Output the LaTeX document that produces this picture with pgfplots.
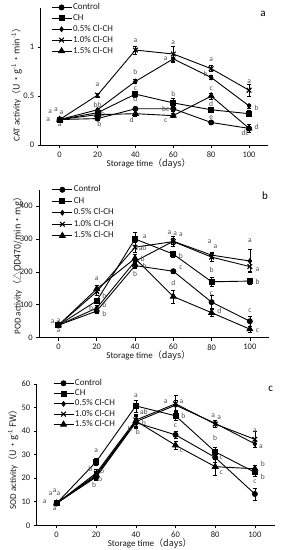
\documentclass[border=0pt]{standalone}
\usepackage{fontspec}
\setmainfont{Carlito}
\newfontfamily\cjk{Noto Sans CJK SC}
\usepackage{pgfplots}
\pgfplotsset{compat=1.18}
\newcommand{\lab}[3]{\node[font=\fontsize{7.5}{8}\selectfont, text=black!70, inner sep=0pt] at (axis cs:#1,#2) {#3};}
\pgfplotsset{
 panel/.style={
  scale only axis, axis lines=left, axis line style={-, black, line width=0.8pt},
  xmin=-10, xmax=110, xtick={0,20,...,100}, ymin=0,
  tick align=outside, major tick length=3pt, tick style={black, line width=0.6pt},
  ticklabel style={font=\fontsize{8.5}{9}\selectfont, text=black!90},
  /pgf/number format/assume math mode=true,
  xlabel={Storage time\cjk{（}days\cjk{）}},
  xlabel style={at={(axis description cs:0.475,0)}, anchor=center, yshift=-18.5pt, font=\fontsize{9}{10}\selectfont, text=black!90},
  ylabel style={font=\fontsize{9}{10}\selectfont, anchor=center, text=black!90},
  legend cell align=left,
  legend style={draw=none, fill=none, font=\fontsize{9}{9}\selectfont, anchor=north west, inner sep=0pt,
     nodes={inner sep=1pt, text height=6pt, text depth=2pt, text=black!90}},
  legend image code/.code={\draw[mark repeat=2,mark phase=2] plot coordinates {(0pt,0pt)(10pt,0pt)(20pt,0pt)};},
  every axis plot/.append style={black, line width=0.9pt, error bars/y dir=both, error bars/y explicit, error bars/error bar style={line width=0.5pt, solid}, error bars/error mark options={rotate=90, mark size=2pt, line width=0.5pt}},
 },
 s1/.style={mark=*, mark size=2.5pt},
 s2/.style={mark=square*, mark size=2.5pt},
 s3/.style={mark=diamond*, mark size=2.3pt},
 s4/.style={mark=x, mark size=3.3pt, mark options={line width=1.1pt}},
 s5/.style={mark=triangle*, mark size=3.3pt},
}
\begin{document}
\begin{tikzpicture}
\useasboundingbox (0,0) rectangle (282pt,550pt);
% ---------------- a: CAT
\begin{axis}[panel, at={(40.7pt,405pt)}, anchor=south west, width=227.3pt, height=137pt,
  ymax=1.4, ytick={0,0.5,1},
  ylabel={CAT activity\cjk{（}U·g\textsuperscript{-1}·min\textsuperscript{-1}\cjk{）}},
  ylabel style={at={(axis description cs:0,0.456)}, yshift=24pt},
  legend style={at={(axis description cs:0.045,1.042)}, row sep=0.9pt}]
\addplot[s1] coordinates {(0,0.26)+-(0,0.01) (20,0.27)+-(0,0.02) (40,0.37)+-(0,0.02) (60,0.37)+-(0,0.03) (80,0.23)+-(0,0.02) (100,0.17)+-(0,0.02)};
\addlegendentry{Control}
\addplot[s2] coordinates {(0,0.26)+-(0,0.01) (20,0.33)+-(0,0.02) (40,0.52)+-(0,0.03) (60,0.43)+-(0,0.05) (80,0.36)+-(0,0.02) (100,0.32)+-(0,0.03)};
\addlegendentry{CH}
\addplot[s3] coordinates {(0,0.26)+-(0,0.01) (20,0.36)+-(0,0.02) (40,0.65)+-(0,0.02) (60,0.88)+-(0,0.02) (80,0.69)+-(0,0.02) (100,0.40)+-(0,0.02)};
\addlegendentry{0.5\% Cl-CH}
\addplot[s4] coordinates {(0,0.26)+-(0,0.01) (20,0.51)+-(0,0.02) (40,0.97)+-(0,0.04) (60,0.93)+-(0,0.08) (80,0.78)+-(0,0.03) (100,0.56)+-(0,0.06)};
\addlegendentry{1.0\% Cl-CH}
\addplot[s5] coordinates {(0,0.26)+-(0,0.01) (20,0.31)+-(0,0.02) (40,0.32)+-(0,0.03) (60,0.30)+-(0,0.02) (80,0.50)+-(0,0.03) (100,0.17)+-(0,0.04)};
\addlegendentry{1.5\% Cl-CH}
\lab{-6}{0.26}{a}\lab{-5}{0.34}{a}\lab{-2}{0.36}{a}\lab{1}{0.33}{a}\lab{0}{0.21}{a}
\lab{20}{0.62}{a}\lab{20}{0.41}{bb}\lab{23}{0.32}{b}\lab{21}{0.22}{b}
\lab{40}{1.07}{a}\lab{40}{0.75}{b}\lab{40}{0.58}{c}\lab{40}{0.47}{d}\lab{38}{0.26}{d}
\lab{60}{1.05}{a}\lab{56}{0.88}{a}\lab{60}{0.52}{b}\lab{56}{0.37}{bc}\lab{56}{0.25}{c}
\lab{80}{0.87}{a}\lab{77}{0.73}{b}\lab{80}{0.58}{c}\lab{80}{0.42}{d}\lab{80}{0.28}{e}
\lab{100}{0.65}{a}\lab{104}{0.38}{b}\lab{104}{0.18}{d}\lab{98}{0.12}{dc}
\end{axis}
\node[font=\fontsize{11}{12}\selectfont] at (263pt,536pt) {a};
% ---------------- b: POD
\begin{axis}[panel, at={(39.3pt,212.3pt)}, anchor=south west, width=229.7pt, height=148.1pt,
  ymax=450, ytick={0,100,...,400},
  ylabel={POD activity\cjk{（}\cjk{△}OD470/min·mg\cjk{）}},
  ylabel style={at={(axis description cs:0,0.5)}, yshift=21.5pt},
  legend style={at={(axis description cs:0.054,1.034)}, row sep=1.5pt}]
\addplot[s1] coordinates {(0,38)+-(0,5) (20,81)+-(0,6) (40,219)+-(0,8) (60,202)+-(0,7) (80,108)+-(0,20) (100,50)+-(0,15)};
\addlegendentry{Control}
\addplot[s2] coordinates {(0,38)+-(0,5) (20,112)+-(0,8) (40,300)+-(0,20) (60,254)+-(0,10) (80,170)+-(0,13) (100,172)+-(0,10)};
\addlegendentry{CH}
\addplot[s3] coordinates {(0,38)+-(0,5) (20,90)+-(0,8) (40,232)+-(0,10) (60,293)+-(0,10) (80,251)+-(0,10) (100,233)+-(0,35)};
\addlegendentry{0.5\% Cl-CH}
\addplot[s4] coordinates {(0,38)+-(0,5) (20,140)+-(0,10) (40,275)+-(0,15) (60,292)+-(0,15) (80,245)+-(0,12) (100,216)+-(0,15)};
\addlegendentry{1.0\% Cl-CH}
\addplot[s5] coordinates {(0,38)+-(0,5) (20,148)+-(0,10) (40,241)+-(0,12) (60,125)+-(0,20) (80,76)+-(0,10) (100,26)+-(0,8)};
\addlegendentry{1.5\% Cl-CH}
\lab{-3}{48}{a}\lab{0}{52}{a}\lab{3}{50}{a}\lab{0}{22}{a}
\lab{20}{180}{a}\lab{24}{128}{b}\lab{24}{100}{b}\lab{17}{90}{b}\lab{24}{73}{b}
\lab{45}{306}{a}\lab{44}{272}{ab}\lab{44}{238}{b}\lab{45}{218}{b}\lab{40}{195}{b}
\lab{58}{318}{a}\lab{61}{316}{a}\lab{64}{312}{a}\lab{64}{250}{b}\lab{64}{212}{c}\lab{60}{165}{d}
\lab{79}{291}{a}\lab{82}{277}{a}\lab{80}{207}{b}\lab{80}{135}{c}\lab{84}{80}{d}
\lab{100}{294}{a}\lab{104}{208}{a}\lab{104}{170}{b}\lab{100}{82}{c}\lab{104}{22}{c}
\end{axis}
\node[font=\fontsize{11}{12}\selectfont] at (265pt,354pt) {b};
% ---------------- c: SOD
\begin{axis}[panel, at={(36.7pt,24.7pt)}, anchor=south west, width=238pt, height=141.3pt,
  ymax=60, ytick={0,10,...,60},
  ylabel={SOD activity\cjk{（}U·g\textsuperscript{-1} FW\cjk{）}},
  ylabel style={at={(axis description cs:0,0.48)}, yshift=23.4pt},
  legend style={at={(axis description cs:0.068,1.042)}, row sep=0.3pt}]
\addplot[s1] coordinates {(0,9.3)+-(0,0.5) (20,20.5)+-(0,1.5) (40,43.6)+-(0,2.5) (60,38.4)+-(0,1.5) (80,28.8)+-(0,2) (100,13.3)+-(0,2.5)};
\addlegendentry{Control}
\addplot[s2] coordinates {(0,9.3)+-(0,0.5) (20,27.0)+-(0,1.5) (40,50.7)+-(0,2.5) (60,46.5)+-(0,2) (80,31.2)+-(0,2) (100,22.5)+-(0,1.5)};
\addlegendentry{CH}
\addplot[s3] coordinates {(0,9.3)+-(0,0.5) (20,21.0)+-(0,1.5) (40,44.0)+-(0,2.5) (60,51.0)+-(0,2) (80,43.3)+-(0,1.5) (100,34.6)+-(0,1.5)};
\addlegendentry{0.5\% Cl-CH}
\addplot[s4] coordinates {(0,9.3)+-(0,0.5) (20,22.2)+-(0,1.5) (40,44.7)+-(0,2.5) (60,51.6)+-(0,3.5) (80,43.0)+-(0,1.5) (100,36.5)+-(0,3.5)};
\addlegendentry{1.0\% Cl-CH}
\addplot[s5] coordinates {(0,9.3)+-(0,0.5) (20,21.5)+-(0,1.5) (40,44.3)+-(0,2.5) (60,34.0)+-(0,1.5) (80,24.9)+-(0,3.5) (100,24.0)+-(0,1.5)};
\addlegendentry{1.5\% Cl-CH}
\lab{-3}{13.5}{a}\lab{-1}{14.5}{a}\lab{1}{13.5}{a}\lab{-6}{10}{a}\lab{-1}{7}{a}
\lab{20}{31.5}{a}\lab{17}{24}{b}\lab{23}{23}{b}\lab{22}{19.8}{b}\lab{19}{17}{b}
\lab{40}{55}{a}\lab{44}{48.3}{ab}\lab{44}{43.5}{b}\lab{41}{39.8}{b}\lab{37}{40.8}{b}
\lab{55}{52.5}{a}\lab{63}{52.5}{a}\lab{64}{46.5}{b}\lab{60}{42.5}{c}\lab{63}{31.5}{c}
\lab{79}{46.5}{a}\lab{82}{45.5}{a}\lab{80}{37}{b}\lab{83}{28.5}{c}\lab{83}{22.5}{c}
\lab{100}{40}{a}\lab{103}{33.5}{a}\lab{104}{26}{b}\lab{104}{20.5}{b}\lab{100}{18.5}{c}
\end{axis}
\node[font=\fontsize{11}{12}\selectfont] at (270.7pt,161pt) {c};
\end{tikzpicture}
\end{document}
